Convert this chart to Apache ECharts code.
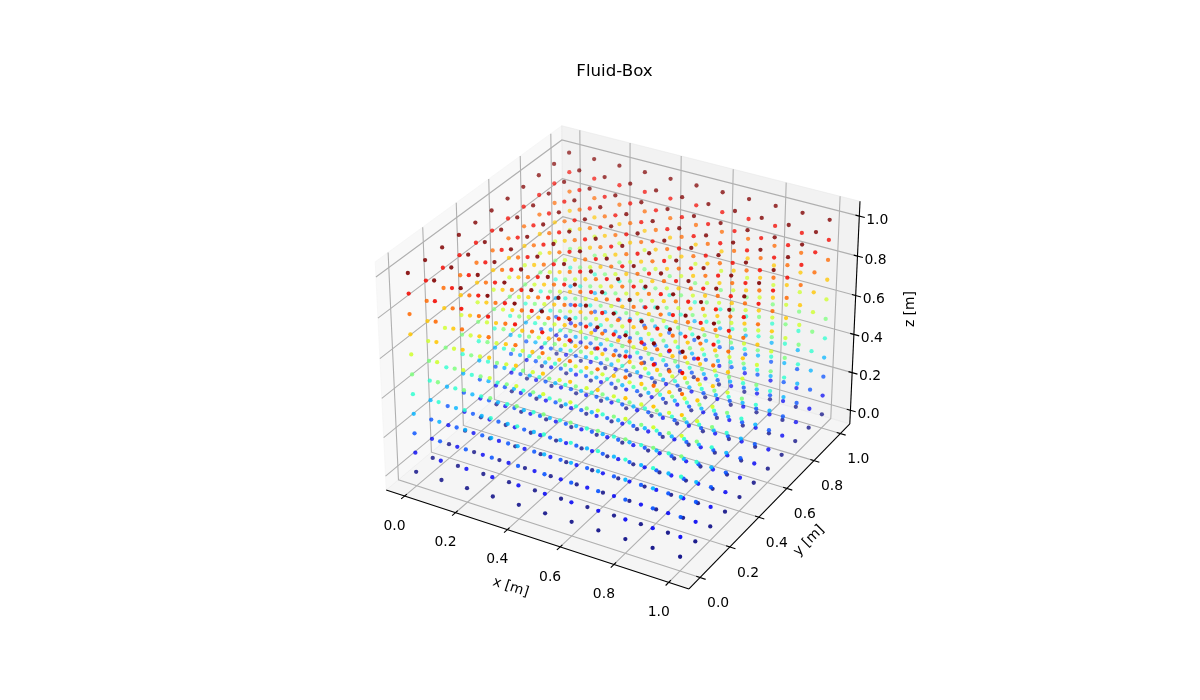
<!DOCTYPE html>
<html>
<head>
<meta charset="utf-8">
<style>html,body{margin:0;padding:0;background:#fff}#c{width:1200px;height:700px}</style>
<script src="https://cdn.jsdelivr.net/npm/echarts@6/dist/echarts.min.js"></script>
</head>
<body>
<div id="c"></div>
<script>
// ---- data ----
const xValues = [0, 0.1, 0.2, 0.3, 0.4, 0.5, 0.6, 0.7, 0.8, 0.9, 1];
const yValues = [0, 0.1, 0.2, 0.3, 0.4, 0.5, 0.6, 0.7, 0.8, 0.9, 1];
const zValues = [0, 0.1, 0.2, 0.3, 0.4, 0.5, 0.6, 0.7, 0.8, 0.9, 1];
const tickValues = [0, 0.2, 0.4, 0.6, 0.8, 1];
const tickLabels = ['0.0', '0.2', '0.4', '0.6', '0.8', '1.0'];
const titleText = 'Fluid-Box';
const xLabel = 'x [m]', yLabel = 'y [m]', zLabel = 'z [m]';
// ---- view ----
const limLow = -0.05, limHigh = 1.05;
const boxLow = -0.0729, boxHigh = 1.0729;
const elev = 30 * Math.PI / 180, azim = -60 * Math.PI / 180, dist = 10;
const rawAspect = [4, 4, 3];
const aspectNorm = Math.hypot(...rawAspect);
const aspect = rawAspect.map(a => a * 1.8294640721620434 / aspectNorm);
const R = aspect.map(a => a * 0.5);
const dirV = [Math.cos(elev) * Math.cos(azim), Math.cos(elev) * Math.sin(azim), Math.sin(elev)];
const eye = R.map((r, i) => r + dist * dirV[i]);
const cross = (a, b) => [a[1]*b[2]-a[2]*b[1], a[2]*b[0]-a[0]*b[2], a[0]*b[1]-a[1]*b[0]];
const dot = (a, b) => a[0]*b[0]+a[1]*b[1]+a[2]*b[2];
const unit = a => { const n = Math.hypot(...a); return a.map(v => v / n); };
const w = unit(dirV), u = unit(cross([0, 0, 1], w)), v = cross(w, u);
function viewOf(x, y, z) {
  const s = (limHigh - limLow);
  const p = [(x - limLow) / s * aspect[0], (y - limLow) / s * aspect[1], (z - limLow) / s * aspect[2]];
  const d = p.map((c, i) => c - eye[i]);
  return [dot(d, u), dot(d, v), dot(d, w)];
}
function proj(x, y, z) { const q = viewOf(x, y, z); return [q[0] / -q[2], q[1] / -q[2]]; }
function depth(x, y, z) { return -viewOf(x, y, z)[2]; }
// jet colour map
const jetR = [[0,0],[.35,0],[.66,1],[.89,1],[1,.5]];
const jetG = [[0,0],[.125,0],[.375,1],[.64,1],[.91,0],[1,0]];
const jetB = [[0,.5],[.11,1],[.34,1],[.65,0],[1,0]];
function seg(tab, t) {
  for (let i = 1; i < tab.length; i++) if (t <= tab[i][0]) {
    const a = tab[i-1], b = tab[i];
    return a[1] + (b[1]-a[1]) * (t-a[0]) / (b[0]-a[0]);
  }
  return tab[tab.length-1][1];
}
function jet(t, al) {
  return `rgba(${Math.round(seg(jetR,t)*255)},${Math.round(seg(jetG,t)*255)},${Math.round(seg(jetB,t)*255)},${al.toFixed(3)})`;
}
// scatter points
let pts = [];
xValues.forEach(x => yValues.forEach(y => zValues.forEach(z => pts.push({x, y, z, d: depth(x, y, z)}))));
const dMin = Math.min(...pts.map(p => p.d)), dMax = Math.max(...pts.map(p => p.d));
pts.sort((a, b) => b.d - a.d);
const scatterData = pts.map(p => {
  const al = 1 - (p.d - dMin) / (dMax - dMin) * 0.7;
  const shown = 0.4 + 0.6 * al;
  return { value: proj(p.x, p.y, p.z), itemStyle: { color: jet(p.z, shown), opacity: 1, borderWidth: 0 } };
});
const polyLine = (pts3, color, width, zl) => ({
  type: 'line', data: pts3.map(p => proj(p[0], p[1], p[2])), showSymbol: false, silent: true, animation: false, z: zl,
  lineStyle: { color, width, cap: 'butt', join: 'miter' }, emphasis: { disabled: true }
});
const L = boxLow, H = boxHigh;
const panes = [
  { pts: [[L,L,L],[L,H,L],[L,H,H],[L,L,H]], fill: 'rgba(242,242,242,0.5)' },
  { pts: [[L,H,L],[H,H,L],[H,H,H],[L,H,H]], fill: 'rgba(230,230,230,0.5)' },
  { pts: [[L,L,L],[H,L,L],[H,H,L],[L,H,L]], fill: 'rgba(236,236,236,0.5)' }
];
const series = [];
series.push({
  type: 'custom', silent: true, animation: false, z: 1, coordinateSystem: 'cartesian2d',
  encode: { x: 0, y: 1 },
  data: panes.map((p, i) => [...proj(p.pts[0][0], p.pts[0][1], p.pts[0][2]), i]),
  renderItem: (params, api) => {
    const pn = panes[api.value(2)];
    return { type: 'polygon', shape: { points: pn.pts.map(p => api.coord(proj(p[0], p[1], p[2]))) }, style: { fill: pn.fill, stroke: pn.fill, lineWidth: 1 } };
  }
});
const gridColor = '#b0b0b0', axisColor = '#000';
tickValues.forEach(t => {
  series.push(polyLine([[t,L,L],[t,H,L],[t,H,H]], gridColor, 1.1, 2));
  series.push(polyLine([[H,t,L],[L,t,L],[L,t,H]], gridColor, 1.1, 2));
  series.push(polyLine([[L,L,t],[L,H,t],[H,H,t]], gridColor, 1.1, 2));
});
series.push(polyLine([[L,L,L],[H,L,L]], axisColor, 1.1, 3));
series.push(polyLine([[H,L,L],[H,H,L]], axisColor, 1.1, 3));
series.push(polyLine([[H,H,L],[H,H,H]], axisColor, 1.1, 3));
const tickOut = 0.02, tickIn = 0.014;
tickValues.forEach(t => {
  series.push(polyLine([[t,L-tickOut,L],[t,L+tickIn,L]], axisColor, 1.1, 3));
  series.push(polyLine([[H+tickOut,t,L],[H-tickIn,t,L]], axisColor, 1.1, 3));
  series.push(polyLine([[H+tickOut,H,t],[H-tickIn,H,t]], axisColor, 1.1, 3));
});
series.push({
  type: 'scatter', data: scatterData, symbol: 'circle', symbolSize: 4.3, silent: true, animation: false, z: 4, large: false,
  emphasis: { disabled: true }
});
const labelSeries = (data) => ({
  type: 'scatter', data, symbolSize: 0, silent: true, animation: false, z: 5, emphasis: { disabled: true }
});
// off = wanted on-screen shift; ECharts turns the label offset with the rotation
const txt = (pos, text, off, rot, size) => {
  const th = (rot || 0) * Math.PI / 180;
  const o = [off[0] * Math.cos(th) - off[1] * Math.sin(th), off[0] * Math.sin(th) + off[1] * Math.cos(th)];
  return {
    value: pos,
    itemStyle: { opacity: 1 },
    label: { show: true, formatter: text, position: 'inside', offset: o, rotate: rot || 0, fontFamily: 'DejaVu Sans', fontSize: size || 13.9, color: '#000', opacity: 1, textBorderWidth: 0 }
  };
};
const tl = [];
tickValues.forEach((t, i) => {
  tl.push(txt(proj(t, L, L), tickLabels[i], [-10, 30]));
  tl.push(txt(proj(H, t, L), tickLabels[i], [18, 26]));
  tl.push(txt(proj(H, H, t), tickLabels[i], [18, 4]));
});
tl.push(txt(proj(0.5, L, L), xLabel, [-23, 49], -18));
tl.push(txt(proj(H, 0.5, L), yLabel, [36, 38], 45));
tl.push(txt(proj(H, H, 0.5), zLabel, [56, -6], 90));
series.push(labelSeries(tl));

const chart = echarts.init(document.getElementById('c'), null, { renderer: 'canvas' });
chart.setOption({
  backgroundColor: '#fff',
  animation: false,
  title: { text: titleText, left: 609.5, top: 58, textAlign: 'center', textStyle: { fontFamily: 'DejaVu Sans', fontWeight: 'normal', fontSize: 16.67, color: '#000' } },
  grid: { left: 345.5, top: 84, width: 539, height: 539, containLabel: false },
  xAxis: { type: 'value', min: -0.095, max: 0.09, show: false },
  yAxis: { type: 'value', min: -0.095, max: 0.09, show: false },
  series
});
</script>
</body>
</html>
